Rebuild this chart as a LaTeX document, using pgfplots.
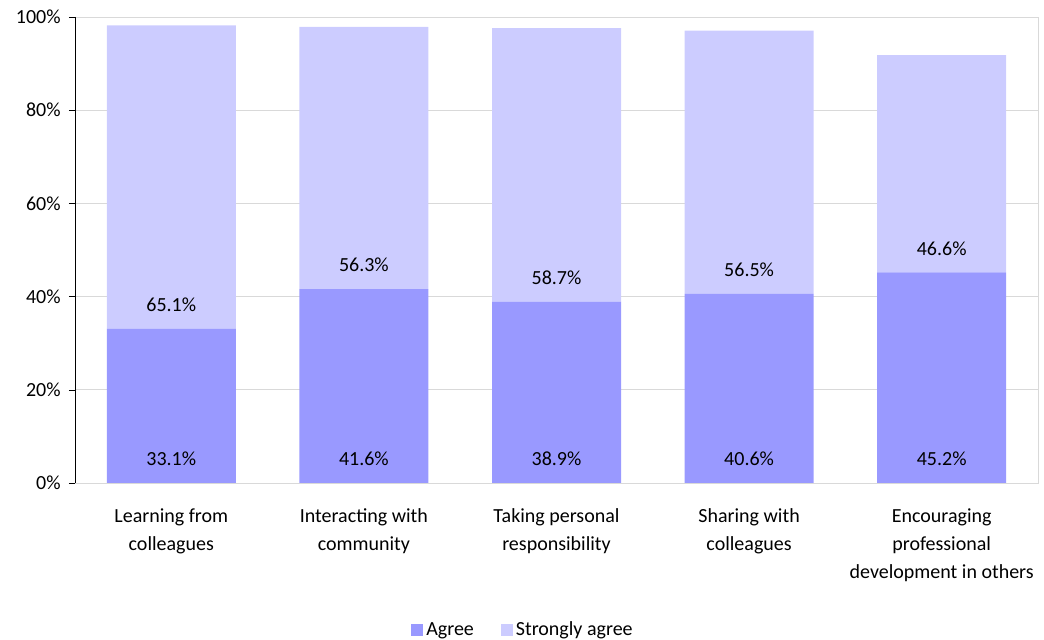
\documentclass[border=0pt]{standalone}
\usepackage{pgfplots}
\usepackage{pgfplotstable}
\pgfplotsset{compat=1.18}
\usepackage{fontspec}
\setmainfont{Carlito}
\definecolor{agree}{HTML}{9999FF}
\definecolor{sagree}{HTML}{CCCCFF}
\definecolor{gridc}{HTML}{D9D9D9}
\pgfplotstableread{
x agree sagree
0 33.1 65.1
1 41.6 56.3
2 38.9 58.7
3 40.6 56.5
4 45.2 46.6
}\data
\pgfplotstableread{
x y v
0 5.15 33.1
0 38.25 65.1
1 5.15 41.6
1 46.75 56.3
2 5.15 38.9
2 44.05 58.7
3 5.15 40.6
3 45.75 56.5
4 5.15 45.2
4 50.35 46.6
}\labels
\begin{document}
\begin{tikzpicture}[font=\fontsize{12}{16.8}\selectfont]
\begin{axis}[
  name=ax,
  width=577.8pt, height=279.6pt, scale only axis,
  xmin=-0.5, xmax=4.5, ymin=0, ymax=100,
  ybar stacked, bar width=77.4pt,
  axis line style={gridc},
  xtick={0,...,4},
  xticklabels={Learning from\\colleagues, Interacting with\\community, Taking personal\\responsibility, Sharing with\\colleagues, Encouraging\\professional\\development in others},
  xticklabel style={align=center, yshift=-8.4pt, font=\fontsize{12}{16.8}\selectfont},
  x tick style={draw=none},
  xtick pos=bottom,
  extra x ticks={-0.5,0.5,1.5,2.5,3.5,4.5},
  extra x tick labels={},
  extra x tick style={grid=none, major tick length=3pt, tick align=outside, tick style={draw=black}},
  ytick={0,20,...,100},
  ytick pos=left,
  ymajorgrids, grid style={gridc},
  y tick style={draw=black},
  tick align=outside, major tick length=3.6pt,
  yticklabel style={xshift=-1.5pt},
  yticklabel={\pgfmathprintnumber{\tick}\%},
  /pgf/number format/assume math mode=true,
  legend style={draw=none, at={(0.4657,-0.3155)}, anchor=center, legend columns=2,
    font=\fontsize{12}{14}\selectfont,
    /tikz/every even column/.append style={column sep=14pt}},
  legend image code/.code={\fill[#1] (0pt,-3.6pt) rectangle (7.2pt,3.6pt);},
]
\addplot[fill=agree, draw=none] table[x=x,y=agree]{\data};
\addlegendentry{Agree}
\addplot[fill=sagree, draw=none] table[x=x,y=sagree]{\data};
\addlegendentry{Strongly agree}
\draw[black] (rel axis cs:0,1) -- (rel axis cs:0,0) -- (rel axis cs:1,0);
\end{axis}
\begin{axis}[
  width=577.8pt, height=279.6pt, scale only axis,
  xmin=-0.5, xmax=4.5, ymin=0, ymax=100, hide axis,
]
\addplot[only marks, mark=none, point meta=explicit,
  nodes near coords={\pgfmathprintnumber[fixed,precision=1,fixed zerofill]{\pgfplotspointmeta}\%},
  every node near coord/.style={anchor=center, black, font=\fontsize{12}{14}\selectfont, /pgf/number format/assume math mode=true}]
  table[x=x,y=y,meta=v]{\labels};
\end{axis}
\pgfresetboundingbox
\path[use as bounding box] ([xshift=-45pt,yshift=-94.2pt]ax.south west) rectangle ([xshift=3.6pt,yshift=10.2pt]ax.north east);
\end{tikzpicture}
\end{document}
